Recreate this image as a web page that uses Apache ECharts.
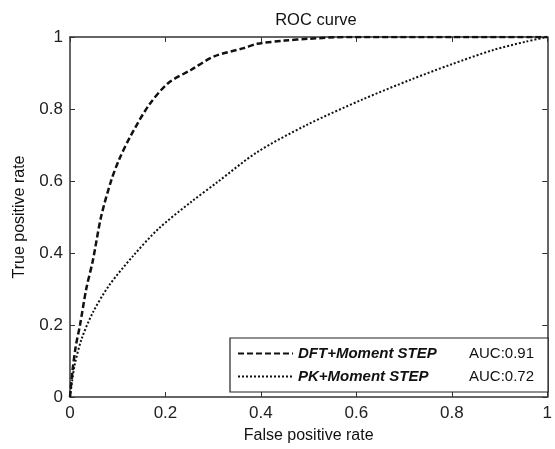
<!DOCTYPE html>
<html>
<head>
<meta charset="utf-8">
<script src="https://cdn.jsdelivr.net/npm/echarts@6/dist/echarts.min.js"></script>
<style>
  html, body { margin: 0; padding: 0; background: #fff; }
  #roc { width: 555px; height: 449px; }
</style>
</head>
<body>
<div id="roc"></div>
<script>
// ROC curve data
const dftFpr = [0, 0.005, 0.012, 0.021, 0.034, 0.048, 0.065, 0.086, 0.103, 0.127, 0.165, 0.206, 0.254, 0.302, 0.364, 0.392, 0.45, 0.5, 0.58, 0.8, 1.0]
const dftTpr = [0, 0.07, 0.14, 0.2, 0.3, 0.38, 0.5, 0.6, 0.66, 0.725, 0.81, 0.872, 0.909, 0.946, 0.969, 0.981, 0.99, 0.995, 1.0, 1.0, 1.0]
const pkFpr = [0, 0.004, 0.010, 0.024, 0.048, 0.082, 0.131, 0.186, 0.254, 0.309, 0.392, 0.495, 0.612, 0.715, 0.797, 0.887, 0.955, 1.0]
const pkTpr = [0, 0.04, 0.09, 0.16, 0.235, 0.31, 0.39, 0.468, 0.542, 0.597, 0.68, 0.755, 0.826, 0.882, 0.923, 0.964, 0.987, 1.0]
const seriesNames = ['DFT+Moment STEP', 'PK+Moment STEP']
const aucLabels = ['AUC:0.91', 'AUC:0.72']
const tickLabels = ['0', '0.2', '0.4', '0.6', '0.8', '1']

const font = 'Liberation Sans, Arial, Helvetica, sans-serif'
const axisColor = '#333'

const pairs = (xs, ys) => xs.map((x, i) => [x, ys[i]])
const tickFmt = v => tickLabels[Math.round(v * 5)]

// 基础坐标轴（带内向刻度，类似 MATLAB 的方框）
const baseAxis = {
  type: 'value',
  min: 0,
  max: 1,
  interval: 0.2,
  axisLine: { show: true, onZero: false, lineStyle: { color: axisColor, width: 1.5 } },
  axisTick: { show: true, inside: true, length: 5, lineStyle: { color: axisColor } },
  splitLine: { show: false }
}

const chart = echarts.init(document.getElementById('roc'))
chart.setOption({
  animation: false,
  backgroundColor: '#fff',
  textStyle: { fontFamily: font },
  title: {
    text: 'ROC curve',
    left: 311,
    textAlign: 'center',
    top: 7,
    textStyle: { fontFamily: font, fontSize: 16.5, fontWeight: 'normal', color: '#111' }
  },
  grid: { left: 70, right: 2, top: 37, bottom: 49 },
  xAxis: [
    Object.assign({}, baseAxis, {
      position: 'bottom',
      name: 'False positive rate',
      nameLocation: 'middle',
      nameGap: 31,
      nameTextStyle: { fontFamily: font, fontSize: 16, color: '#111' },
      axisLabel: { formatter: tickFmt, fontFamily: font, fontSize: 17, color: '#222', margin: 8 }
    }),
    Object.assign({}, baseAxis, { position: 'top', axisLabel: { show: false } })
  ],
  yAxis: [
    Object.assign({}, baseAxis, {
      position: 'left',
      name: 'True positive rate',
      nameLocation: 'middle',
      nameGap: 42,
      nameTextStyle: { fontFamily: font, fontSize: 16, color: '#111' },
      axisLabel: { formatter: tickFmt, fontFamily: font, fontSize: 17, color: '#222', margin: 7 }
    }),
    Object.assign({}, baseAxis, { position: 'right', axisLabel: { show: false } })
  ],
  legend: {
    orient: 'vertical',
    left: 230,
    top: 338,
    padding: [8, 14, 8, 7],
    itemGap: 8,
    itemWidth: 55,
    itemHeight: 18,
    borderColor: '#222',
    borderWidth: 1.2,
    borderRadius: 0,
    backgroundColor: '#fff',
    itemStyle: { color: 'transparent', borderColor: 'transparent', borderWidth: 0, opacity: 0 },
    data: seriesNames,
    formatter: name => {
      const i = seriesNames.indexOf(name)
      return '{a|' + name + '}{b|' + aucLabels[i] + '}'
    },
    textStyle: {
      rich: {
        a: { fontFamily: font, fontSize: 15, fontStyle: 'italic', fontWeight: 'bold', color: '#111', width: 171 },
        b: { fontFamily: font, fontSize: 15, color: '#111' }
      }
    }
  },
  series: [
    {
      name: seriesNames[0],
      type: 'line',
      data: pairs(dftFpr, dftTpr),
      symbol: 'none',
      smooth: 0.3,
      lineStyle: { color: '#111', width: 2.5, type: [6, 3] },
      itemStyle: { color: '#111' },
      z: 3
    },
    {
      name: seriesNames[1],
      type: 'line',
      data: pairs(pkFpr, pkTpr),
      symbol: 'none',
      smooth: 0.3,
      lineStyle: { color: '#111', width: 2, type: [2, 2] },
      itemStyle: { color: '#111' },
      z: 2
    }
  ]
})
</script>
</body>
</html>
